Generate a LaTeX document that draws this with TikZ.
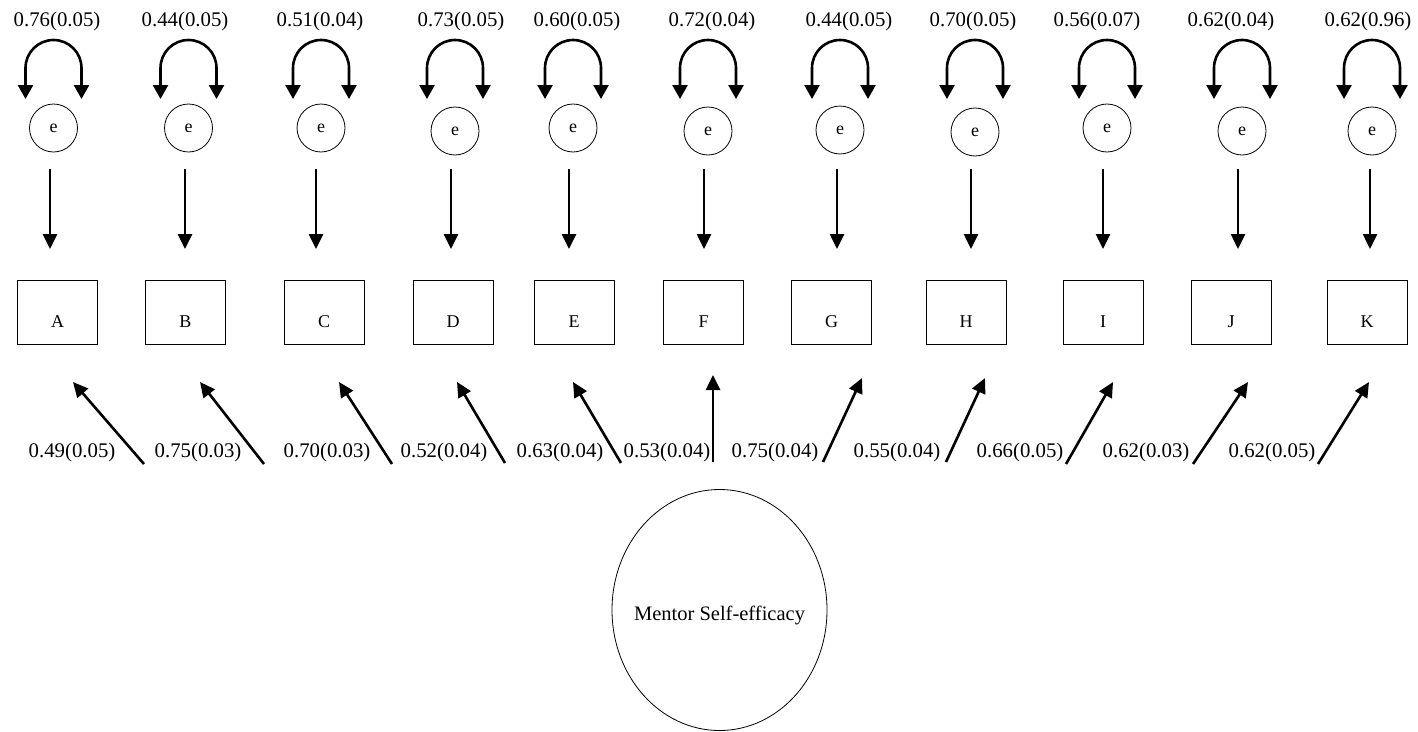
\documentclass[tikz,border=0pt]{standalone}
\usepackage{fontspec}
\setmainfont{Liberation Serif}
\usetikzlibrary{arrows.meta,shapes.geometric}
\begin{document}
\begin{tikzpicture}[x=1pt,y=-1pt,
  every node/.style={inner sep=0pt},
  errvar/.style={circle,draw,line width=0.8pt,minimum size=48pt,font=\fontsize{18}{20}\selectfont},
  obsbox/.style={rectangle,draw,line width=0.8pt,minimum width=80pt,minimum height=64pt,
    text height=30pt,text depth=0pt,font=\fontsize{18}{20}\selectfont},
  latent/.style={ellipse,draw,line width=0.8pt,minimum width=215pt,minimum height=241pt,
    inner xsep=-12pt,text height=24.5pt,text depth=4.5pt,font=\fontsize{20.5}{24}\selectfont},
  coef/.style={anchor=base,font=\fontsize{20.8}{24}\selectfont},
  path/.style={line width=2.6pt,-{Triangle[length=15pt,width=14pt]}},
  varloop/.style={line width=2.6pt,{Triangle[length=14pt,width=15pt]}-{Triangle[length=14pt,width=15pt]}},
]
\useasboundingbox (0,0) rectangle (1418,731);

% indicators with their error terms and error variances
% name / label x / error x / error y / arrow x / box x / variance
\foreach \n/\lx/\cx/\cy/\ax/\bx/\val in {
  A/57/53.5/128/50/57.5/0.76(0.05),
  B/185/188.5/128/185/185.5/0.44(0.05),
  C/320/321/128/316/324/0.51(0.04),
  D/461/455/131/451/453/0.73(0.05),
  E/577/573/128/569/574/0.60(0.05),
  F/712/708/131/704/703.5/0.72(0.04),
  G/849/840/130/837/831.5/0.44(0.05),
  H/973/975/132/971/966/0.70(0.05),
  I/1097/1107/128/1103/1103/0.56(0.07),
  J/1231/1242/131/1238/1231/0.62(0.04),
  K/1368/1372/131/1370/1367/0.62(0.96)} {
  \node[coef] (v\n) at (\lx,26) {\val};
  \node[errvar] (e\n) at (\cx,\cy) {e};
  \node[obsbox] (\n) at (\bx,312) {\n};
  \draw[varloop] (\cx-28,99) -- (\cx-28,68)
    arc[start angle=180,end angle=0,radius=28pt] -- (\cx+28,99);
  \coordinate (s\n) at (\ax,169);
  \coordinate (t\n) at (\ax,249);
  \draw[path] (s\n) -- (t\n);
}

% latent factor
\node[latent] (MS) at (719.5,610) {Mentor Self-efficacy};

% loadings: tail / head / label position
\foreach \n/\fx/\fy/\hx/\hy/\lbx/\val in {
  A/144/464/73/382/72/0.49(0.05),
  B/264/464/200/382/198/0.75(0.03),
  C/392/464/339/382/327/0.70(0.03),
  D/505/463/457/382/444/0.52(0.04),
  E/621/463/573/382/560/0.63(0.04),
  F/713/462/713/375/667/0.53(0.04),
  G/823/462/862/378/775/0.75(0.04),
  H/946/462/985/378/897/0.55(0.04),
  I/1066/464/1113/382/1020/0.66(0.05),
  J/1193/464/1248/382/1146/0.62(0.03),
  K/1318/464/1369/382/1272/0.62(0.05)} {
  \coordinate (f\n) at (\fx,\fy);
  \coordinate (h\n) at (\hx,\hy);
  \draw[path] (f\n) -- (h\n);
  \node[coef] (l\n) at (\lbx,457) {\val};
}
\end{tikzpicture}
\end{document}
